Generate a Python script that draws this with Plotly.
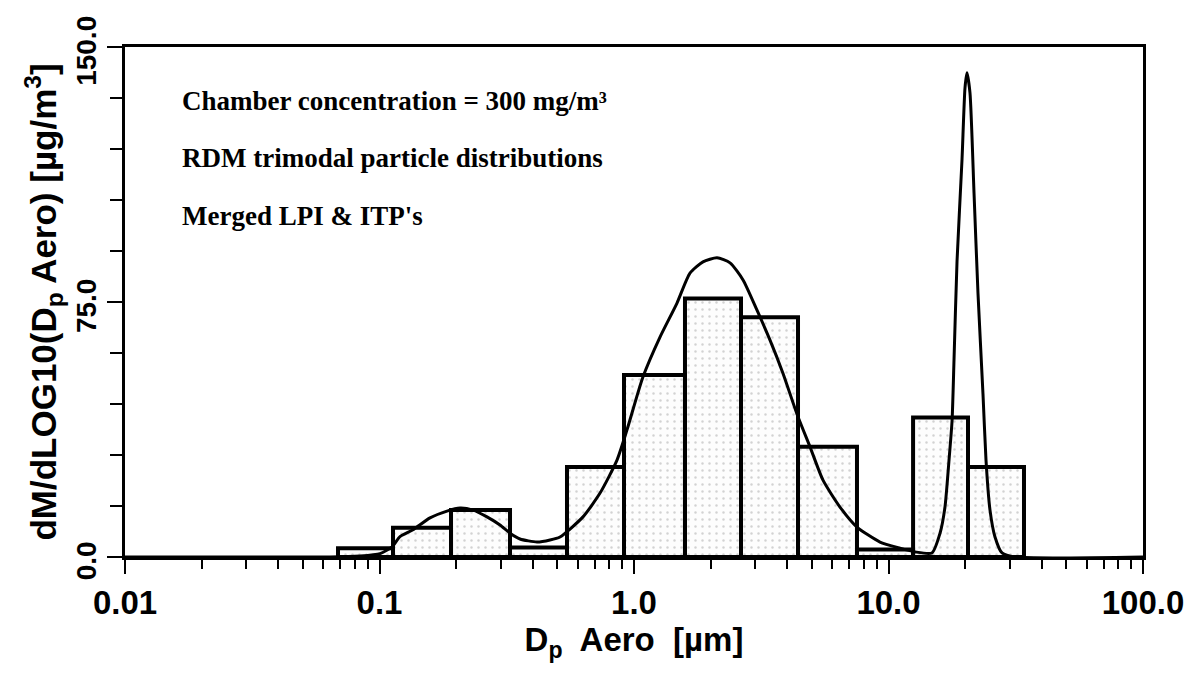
import plotly.graph_objects as go

# ---- data ----
# impactor size-bin edges (aerodynamic diameter, µm)
bin_edges = [0.0687, 0.1130, 0.1910, 0.3257, 0.5454, 0.9135, 1.586,
             2.633, 4.410, 7.519, 12.49, 20.53, 34.07]
# dM/dlogDp per bin (µg/m^3)
bin_values = [2.6, 8.6, 13.8, 2.8, 26.5, 53.5, 76.0, 70.5, 32.4, 2.2, 41.0, 26.5]

# fitted trimodal lognormal curve
curve_d = [0.01, 0.0639, 0.0838, 0.1005, 0.1120, 0.1204, 0.1354, 0.1579, 0.1841,
           0.2072, 0.2331, 0.2645, 0.2975, 0.3257, 0.3565, 0.4158, 0.4677, 0.5119,
           0.6304, 0.7354, 0.8574, 0.9386, 1.0849, 1.2652, 1.4757, 1.6596, 1.8664,
           2.119, 2.384, 2.682, 3.043, 3.423, 3.851, 4.371, 4.916, 5.529, 6.447,
           7.519, 9.26, 11.10, 12.71, 14.82, 15.94, 16.67, 17.29, 17.77, 18.09,
           18.59, 19.45, 19.98, 20.34, 20.90, 21.68, 22.47, 23.51, 24.16, 25.05,
           26.21, 27.93, 31.41, 100.0]
curve_m = [0.0, 0.0, 0.3, 1.0, 3.0, 6.0, 8.0, 11.5, 13.5,
           14.4, 13.8, 11.8, 9.4, 7.0, 5.3, 4.4, 5.0, 5.9,
           11.8, 18.8, 28.5, 37.4, 53.0, 64.7, 74.7, 83.5, 86.8,
           88.0, 86.5, 81.5, 72.6, 63.8, 54.0, 42.0, 32.4, 22.6, 14.7,
           8.8, 4.4, 2.6, 1.5, 1.2, 7.0, 14.7, 28.5, 40.0, 58.0,
           87.0, 117.0, 138.0, 142.4, 136.5, 107.0, 77.6, 48.0, 28.5, 13.8,
           5.9, 1.2, 0.0, 0.0]

x_tick_vals = [0.01, 0.1, 1, 10, 100]
x_tick_text = ["0.01", "0.1", "1.0", "10.0", "100.0"]
y_tick_vals = [0, 75, 150]
y_tick_text = ["0.0", "75.0", "150.0"]

notes = ["Chamber concentration = 300 mg/m³",
         "RDM trimodal particle distributions",
         "Merged LPI & ITP's"]
note_y = [101, 158, 216]   # approximate vertical centres (page pixels)

# ---- build figure ----
bx, by = [], []
for i, v in enumerate(bin_values):
    l, r = bin_edges[i], bin_edges[i + 1]
    bx += [l, l, r, r, l, None]
    by += [0, v, v, 0, 0, None]

fig = go.Figure()
fig.add_trace(go.Scatter(
    x=bx, y=by, mode="lines", fill="toself",
    fillcolor="rgba(0,0,0,0)",
    fillpattern=dict(shape=".", fgcolor="#a8a8a8", bgcolor="#fdfdfd",
                     size=7, solidity=0.1),
    line=dict(color="black", width=4), hoverinfo="skip", showlegend=False))
fig.add_trace(go.Scatter(
    x=curve_d, y=curve_m, mode="lines",
    line=dict(color="black", width=3, shape="spline", smoothing=0.6),
    showlegend=False))

sans = "Liberation Sans Narrow, Liberation Sans, Arial"
serif = "Liberation Serif, DejaVu Serif, serif"

# page has an 8px body margin; compensate so the plot area sits at
# x 125..1143, y 47..557 in the window
W, H = 1185, 666
ML, MR, MT, MB = 117, 50, 39, 117
plot_w = W - ML - MR
plot_h = H - MT - MB

ann = []
for t, yp in zip(notes, note_y):
    ann.append(dict(
        x=(180 - 125) / plot_w, y=1 - (yp - 47) / plot_h,
        xref="paper", yref="paper", text=t, showarrow=False,
        xanchor="left", yanchor="middle",
        font=dict(family=serif, size=27, color="black", weight="bold")))

fig.update_layout(
    width=W, height=H,
    margin=dict(l=ML, r=MR, t=MT, b=MB, autoexpand=False),
    paper_bgcolor="white", plot_bgcolor="white",
    showlegend=False,
    annotations=ann,
    xaxis=dict(
        type="log", range=[-2, 2], automargin=False,
        tickmode="array", tickvals=x_tick_vals, ticktext=x_tick_text,
        ticks="outside", ticklen=14, tickwidth=2, tickcolor="black",
        minor=dict(ticks="outside", ticklen=9, tickwidth=2, tickcolor="black", dtick="D1"),
        showgrid=False, zeroline=False,
        showline=True, linecolor="black", linewidth=3, mirror=True,
        ticklabeloverflow="allow",
        tickfont=dict(family=sans, size=33, color="black", weight="bold"),
        title=dict(text="D<sub>p</sub>  Aero  [µm]", standoff=2,
                   font=dict(family=sans, size=33, color="black", weight="bold")),
    ),
    yaxis=dict(
        range=[0, 150], automargin=False,
        tickmode="array", tickvals=y_tick_vals, ticktext=y_tick_text,
        tickangle=-90, ticklabelshift=8,
        ticks="outside", ticklen=15, tickwidth=2, tickcolor="black",
        minor=dict(ticks="outside", ticklen=12, tickwidth=2, tickcolor="black", dtick=15),
        showgrid=False, zeroline=False,
        showline=True, linecolor="black", linewidth=3, mirror=True,
        ticklabeloverflow="allow",
        tickfont=dict(family=sans, size=28, color="black", weight="bold"),
        title=dict(text="dM/dLOG10(D<sub>p</sub> Aero) [µg/m<sup>3</sup>]", standoff=4,
                   font=dict(family=sans, size=35, color="black", weight="bold")),
    ),
)

fig.write_html("out.html")
